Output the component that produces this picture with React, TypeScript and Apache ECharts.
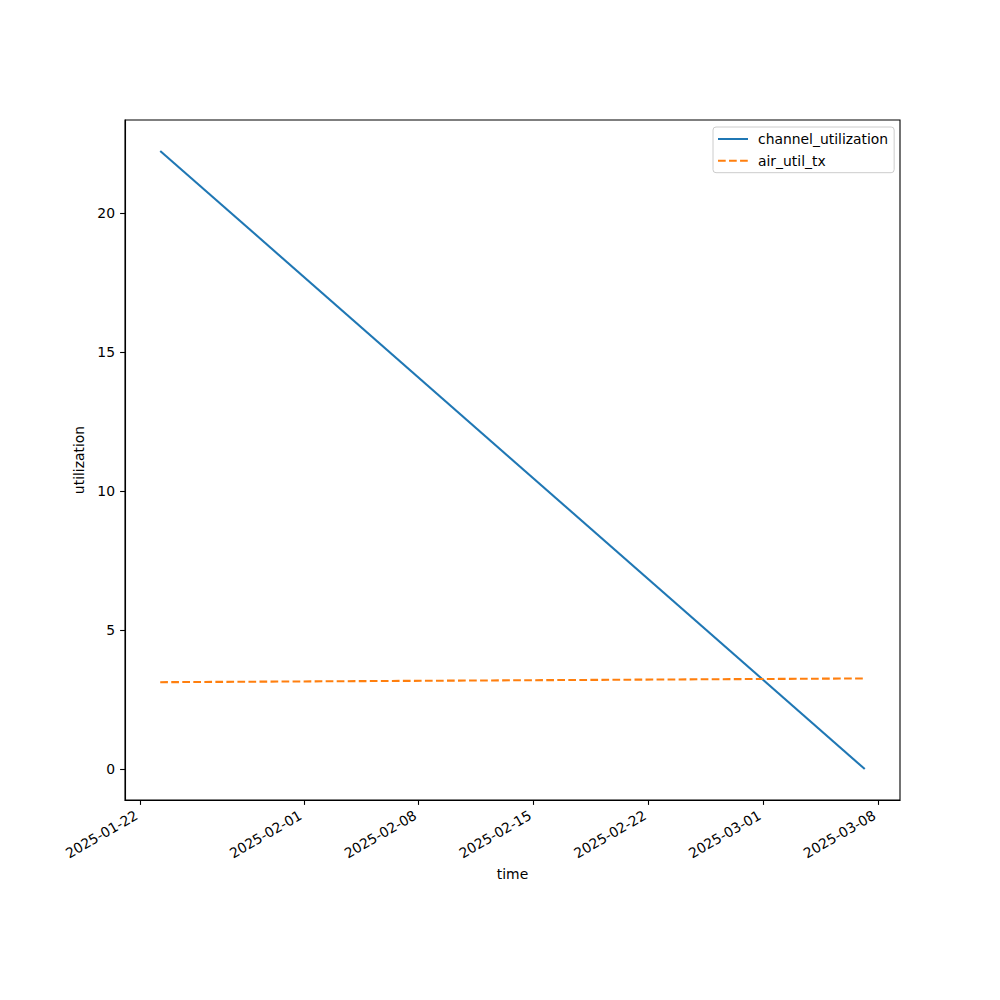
import React, { useEffect, useRef } from "react";
import * as echarts from "echarts";

const times = [Date.UTC(2025, 0, 23, 5, 40), Date.UTC(2025, 2, 7, 4, 50)];
const channelUtilization = [22.23, 0.0];
const airUtilTx = [3.125, 3.26];
const xTickDates = [
  Date.UTC(2025, 0, 22),
  Date.UTC(2025, 1, 1),
  Date.UTC(2025, 1, 8),
  Date.UTC(2025, 1, 15),
  Date.UTC(2025, 1, 22),
  Date.UTC(2025, 2, 1),
  Date.UTC(2025, 2, 8),
];
const yTicks = [0, 5, 10, 15, 20];
const seriesNames = ["channel_utilization", "air_util_tx"];

const FONT = "DejaVu Sans";
const FS = 13.9;
const LW = 2.08;

function fmtDate(v: number) {
  const d = new Date(v);
  const p = (n: number) => String(n).padStart(2, "0");
  return `${d.getUTCFullYear()}-${p(d.getUTCMonth() + 1)}-${p(d.getUTCDate())}`;
}

export default function App() {
  const ref = useRef<HTMLDivElement>(null);
  useEffect(() => {
    if (!ref.current) return;
    const chart = echarts.init(ref.current, null, { renderer: "svg" });
    const xSpan = times[times.length - 1] - times[0];
    const xMin = times[0] - 0.05 * xSpan;
    const xMax = times[times.length - 1] + 0.05 * xSpan;
    const allY = [...channelUtilization, ...airUtilTx];
    const yLo = Math.min(...allY);
    const yHi = Math.max(...allY);
    const ySpan = yHi - yLo;
    const yMin = yLo - 0.05 * ySpan;
    const yMax = yHi + 0.05 * ySpan;

    chart.setOption({
      animation: false,
      backgroundColor: "#ffffff",
      textStyle: { fontFamily: FONT },
      grid: {
        left: 125,
        right: 100,
        top: 120,
        bottom: 200,
        show: true,
        borderColor: "#000",
        borderWidth: 1.1,
        backgroundColor: "transparent",
      },
      legend: {
        orient: "vertical",
        left: 713,
        top: 127,
        itemWidth: 30,
        itemHeight: 14,
        itemGap: 7.7,
        padding: [5, 6, 5, 4],
        borderColor: "#cccccc",
        borderWidth: 1,
        borderRadius: 3,
        backgroundColor: "rgba(255,255,255,0.8)",
        itemStyle: { opacity: 0 },
        textStyle: { fontFamily: FONT, fontSize: FS, color: "#000", padding: [0, 0, 0, 5] },
        data: seriesNames,
      },
      xAxis: {
        type: "value",
        min: xMin,
        max: xMax,
        name: "time",
        nameLocation: "middle",
        nameGap: 57,
        nameTextStyle: { fontFamily: FONT, fontSize: FS, color: "#000" },
        axisLine: { show: true, onZero: false, lineStyle: { color: "#000", width: 1.1 } },
        axisTick: {
          show: true,
          length: 4.9,
          inside: false,
          customValues: xTickDates,
          lineStyle: { color: "#000", width: 1.1 },
        },
        axisLabel: {
          customValues: xTickDates,
          rotate: 30,
          margin: 12,
          padding: [0, 4, 0, 0],
          fontFamily: FONT,
          fontSize: FS,
          color: "#000",
          formatter: (v: number) => fmtDate(v),
          hideOverlap: false,
        },
        splitLine: { show: false },
      },
      yAxis: {
        type: "value",
        min: yMin,
        max: yMax,
        name: "utilization",
        nameLocation: "middle",
        nameGap: 25,
        nameTextStyle: { fontFamily: FONT, fontSize: FS, color: "#000" },
        axisLine: { show: true, onZero: false, lineStyle: { color: "#000", width: 1.1 } },
        axisTick: {
          show: true,
          length: 4.9,
          inside: false,
          customValues: yTicks,
          lineStyle: { color: "#000", width: 1.1 },
        },
        axisLabel: {
          customValues: yTicks,
          margin: 10,
          fontFamily: FONT,
          fontSize: FS,
          color: "#000",
        },
        splitLine: { show: false },
      },
      series: [
        {
          name: seriesNames[0],
          type: "line",
          symbol: "none",
          data: times.map((t, i) => [t, channelUtilization[i]]),
          lineStyle: { color: "#1f77b4", width: LW, type: "solid" },
          itemStyle: { color: "#1f77b4" },
        },
        {
          name: seriesNames[1],
          type: "line",
          symbol: "none",
          data: times.map((t, i) => [t, airUtilTx[i]]),
          lineStyle: { color: "#ff7f0e", width: LW, type: [7.7, 3.33] },
          itemStyle: { color: "#ff7f0e" },
        },
      ],
    });
    return () => chart.dispose();
  }, []);
  return (
    <div
      ref={ref}
      style={{ position: "absolute", left: 0, top: 0, width: 1000, height: 1000, background: "#fff" }}
    />
  );
}
